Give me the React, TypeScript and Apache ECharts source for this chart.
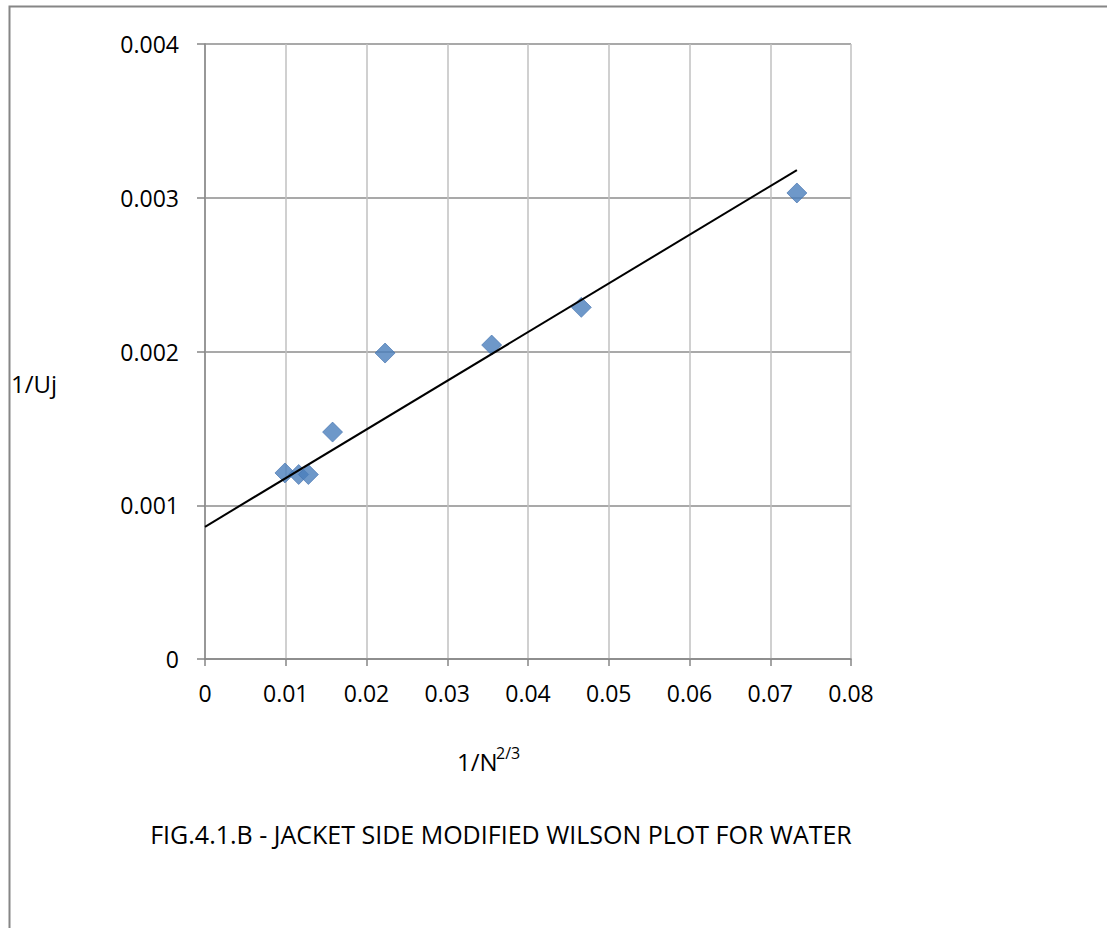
import React, { useEffect, useRef } from "react";
import * as echarts from "echarts";

// Data
const xValues = [0.0099, 0.0116, 0.0128, 0.0158, 0.0223, 0.0355, 0.0466, 0.0733];
const yValues = [0.00121, 0.0012, 0.0012, 0.001476, 0.00199, 0.002042, 0.002287, 0.003031];
const trendX = [0, 0.0733];
const trendY = [0.00086, 0.00318];
const xMin = 0;
const xMax = 0.08;
const xStep = 0.01;
const yMin = 0;
const yMax = 0.004;
const yStep = 0.001;
const yAxisName = "1/Uj";
const xAxisNameMain = "1/N";
const xAxisNameSup = "2/3";
const figTitle = "FIG.4.1.B - JACKET SIDE MODIFIED WILSON PLOT FOR WATER";

const FONT = "'Open Sans', 'Noto Sans', sans-serif";

const fmt = (v: number) => String(parseFloat(v.toFixed(4)));

export default function App() {
  const ref = useRef<HTMLDivElement>(null);

  useEffect(() => {
    if (!ref.current) return;
    const chart = echarts.init(ref.current, undefined, { renderer: "svg" });
    const points = xValues.map((x, i) => [x, yValues[i]]);
    const trend = trendX.map((x, i) => [x, trendY[i]]);

    chart.setOption({
      animation: false,
      backgroundColor: "#ffffff",
      textStyle: { fontFamily: FONT },
      grid: { left: 205, right: 256, top: 44, bottom: 269, containLabel: false },
      xAxis: {
        type: "value",
        min: xMin,
        max: xMax,
        interval: xStep,
        axisLine: { show: true, onZero: false, lineStyle: { color: "#868686", width: 1.5 } },
        axisTick: { show: true, length: 7, lineStyle: { color: "#868686", width: 1.5 } },
        splitLine: { show: true, lineStyle: { color: "#c0c0c0", width: 1.5 } },
        axisLabel: {
          color: "#000",
          fontSize: 23,
          fontFamily: FONT,
          margin: 22,
          formatter: (v: number) => fmt(v),
        },
      },
      yAxis: {
        type: "value",
        min: yMin,
        max: yMax,
        interval: yStep,
        axisLine: { show: true, onZero: false, lineStyle: { color: "#868686", width: 1.5 } },
        axisTick: { show: true, length: 8, lineStyle: { color: "#868686", width: 1.5 } },
        splitLine: { show: true, lineStyle: { color: "#8c8c8c", width: 1.5 } },
        axisLabel: {
          color: "#000",
          fontSize: 23,
          fontFamily: FONT,
          margin: 26,
          formatter: (v: number) => fmt(v),
        },
      },
      series: [
        {
          type: "scatter",
          data: points,
          symbol: "diamond",
          symbolSize: 20,
          itemStyle: { color: "#4a7ebb", borderColor: "#4170ad", borderWidth: 0.8 },
          z: 2,
        },
        {
          type: "line",
          data: trend,
          showSymbol: false,
          symbol: "none",
          lineStyle: { color: "#000000", width: 2 },
          z: 3,
        },
      ],
      graphic: [
        {
          type: "polyline",
          shape: { points: [[9.5, 928], [9.5, 6.5], [1107, 6.5]] },
          style: { stroke: "#868686", lineWidth: 2, fill: "none" },
          silent: true,
        },
        {
          type: "text",
          x: 11,
          y: 383,
          style: {
            text: yAxisName,
            fontSize: 24,
            fontFamily: FONT,
            fill: "#000",
            textAlign: "left",
            textVerticalAlign: "middle",
          },
        },
        {
          type: "text",
          x: 457,
          y: 761,
          style: {
            text: xAxisNameMain,
            fontSize: 24,
            fontFamily: FONT,
            fill: "#000",
            textAlign: "left",
            textVerticalAlign: "middle",
          },
        },
        {
          type: "text",
          x: 496,
          y: 753,
          style: {
            text: xAxisNameSup,
            fontSize: 16,
            fontFamily: FONT,
            fill: "#000",
            textAlign: "left",
            textVerticalAlign: "middle",
          },
        },
        {
          type: "text",
          x: 501,
          y: 834,
          style: {
            text: figTitle,
            fontSize: 25,
            fontFamily: FONT,
            fill: "#000",
            textAlign: "center",
            textVerticalAlign: "middle",
          },
        },
      ],
    });

    return () => chart.dispose();
  }, []);

  return (
    <div
      ref={ref}
      style={{ position: "fixed", left: 0, top: 0, width: 1107, height: 928, background: "#fff" }}
    />
  );
}
